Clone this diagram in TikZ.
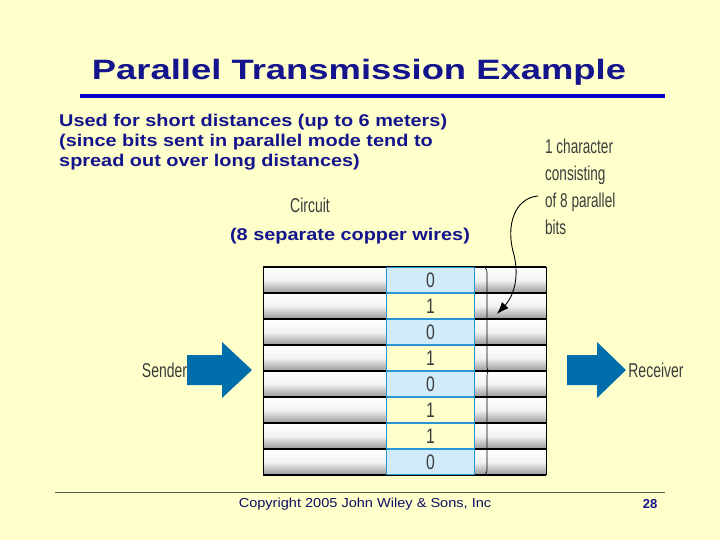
\documentclass[tikz,border=0pt]{standalone}
\usepackage{fontspec}
\setmainfont{Liberation Sans}
\usetikzlibrary{decorations.pathreplacing,arrows.meta}
\definecolor{bg}{RGB}{255,255,204}
\definecolor{ttl}{RGB}{20,20,140}
\definecolor{rule}{RGB}{0,0,200}
\definecolor{arr}{RGB}{0,110,170}
\definecolor{cellb}{RGB}{210,235,250}
\definecolor{cellbd}{RGB}{40,150,210}
\definecolor{lab}{RGB}{60,60,60}
\tikzset{
  bigarrow/.style={fill=arr},
  lbl/.style={text=lab, font=\fontsize{20}{27}\selectfont, xscale=0.7, align=left, inner sep=0pt},
  body/.style={font=\bfseries\fontsize{17}{20}\selectfont, text=ttl, align=left, inner sep=0pt, xscale=1.17}
}
\begin{document}
\begin{tikzpicture}[x=1pt,y=-1pt]
\fill[bg] (0,0) rectangle (720,540);
\useasboundingbox (0,0) rectangle (720,540);
\node[font=\bfseries\fontsize{28}{30}\selectfont, text=ttl, xscale=1.3] (title) at (359,72) {Parallel Transmission Example};
\draw[rule, line width=3.5pt] (80,96) -- (665,96);
\node[body, anchor=north west] (txt) at (59,114) {Used for short distances (up to 6 meters)\\(since bits sent in parallel mode tend to\\spread out over long distances)};
\node[lbl] (circ) at (310,205) {Circuit};
\node[body] (wires) at (350,236) {(8 separate copper wires)};
\node[lbl, anchor=north west, xscale=0.97] (char) at (545,139) {1 character\\consisting\\of 8 parallel\\bits};
% wires
\foreach \i in {0,...,7}{
  \pgfmathsetmacro{\yt}{267+26*\i}
  \shade[top color=white, bottom color=gray!80, middle color=gray!10] (263,\yt) rectangle (546,\yt+26);
  \draw[black, line width=1.4pt] (263,\yt) -- (546,\yt);
}
\draw[black, line width=1.4pt] (263,475) -- (546,475);
\draw[black, line width=0.8pt] (263,267) -- (263,475) (546,267) -- (546,475);
% cells
\foreach \b [count=\i from 0] in {0,1,0,1,0,1,1,0}{
  \pgfmathsetmacro{\yt}{267+26*\i}
  \ifnum\b=0 \def\fc{cellb}\else\def\fc{bg}\fi
  \node[draw=cellbd, line width=1.5pt, fill=\fc, minimum width=88pt, minimum height=25pt, inner sep=0pt] (c\i) at (430.5,\yt+13) {};
  \node[text=lab, font=\fontsize{21}{21}\selectfont, xscale=0.75] at (c\i) {\b};
}
\draw[decorate, decoration={brace, amplitude=4pt}, line width=0.6pt] (485,268) -- (485,474);
\coordinate (brace) at (497,314);
\draw[-{Latex[length=12pt,width=9pt]}, line width=0.9pt] (538,196) .. controls (515,198) and (505,225) .. (514,255) .. controls (520,280) and (512,298) .. (brace);
\fill[bigarrow] (187,355) -- (222,355) -- (222,342) -- (252,370) -- (222,398) -- (222,385) -- (187,385) -- cycle;
\fill[bigarrow] (567,355) -- (597,355) -- (597,342) -- (626,370) -- (597,398) -- (597,385) -- (567,385) -- cycle;
\node[lbl] (sender) at (164.5,370) {Sender};
\node[lbl] (receiver) at (656,370) {Receiver};
\draw[gray!70!black, line width=0.6pt] (55,492) -- (665,492);
\node[font=\fontsize{13}{15}\selectfont, text=ttl!70!black, xscale=1.12] (copy) at (365,504) {Copyright 2005 John Wiley \& Sons, Inc};
\node[font=\bfseries\fontsize{13}{15}\selectfont, text=ttl] (pg) at (650,504) {28};
\end{tikzpicture}
\end{document}
